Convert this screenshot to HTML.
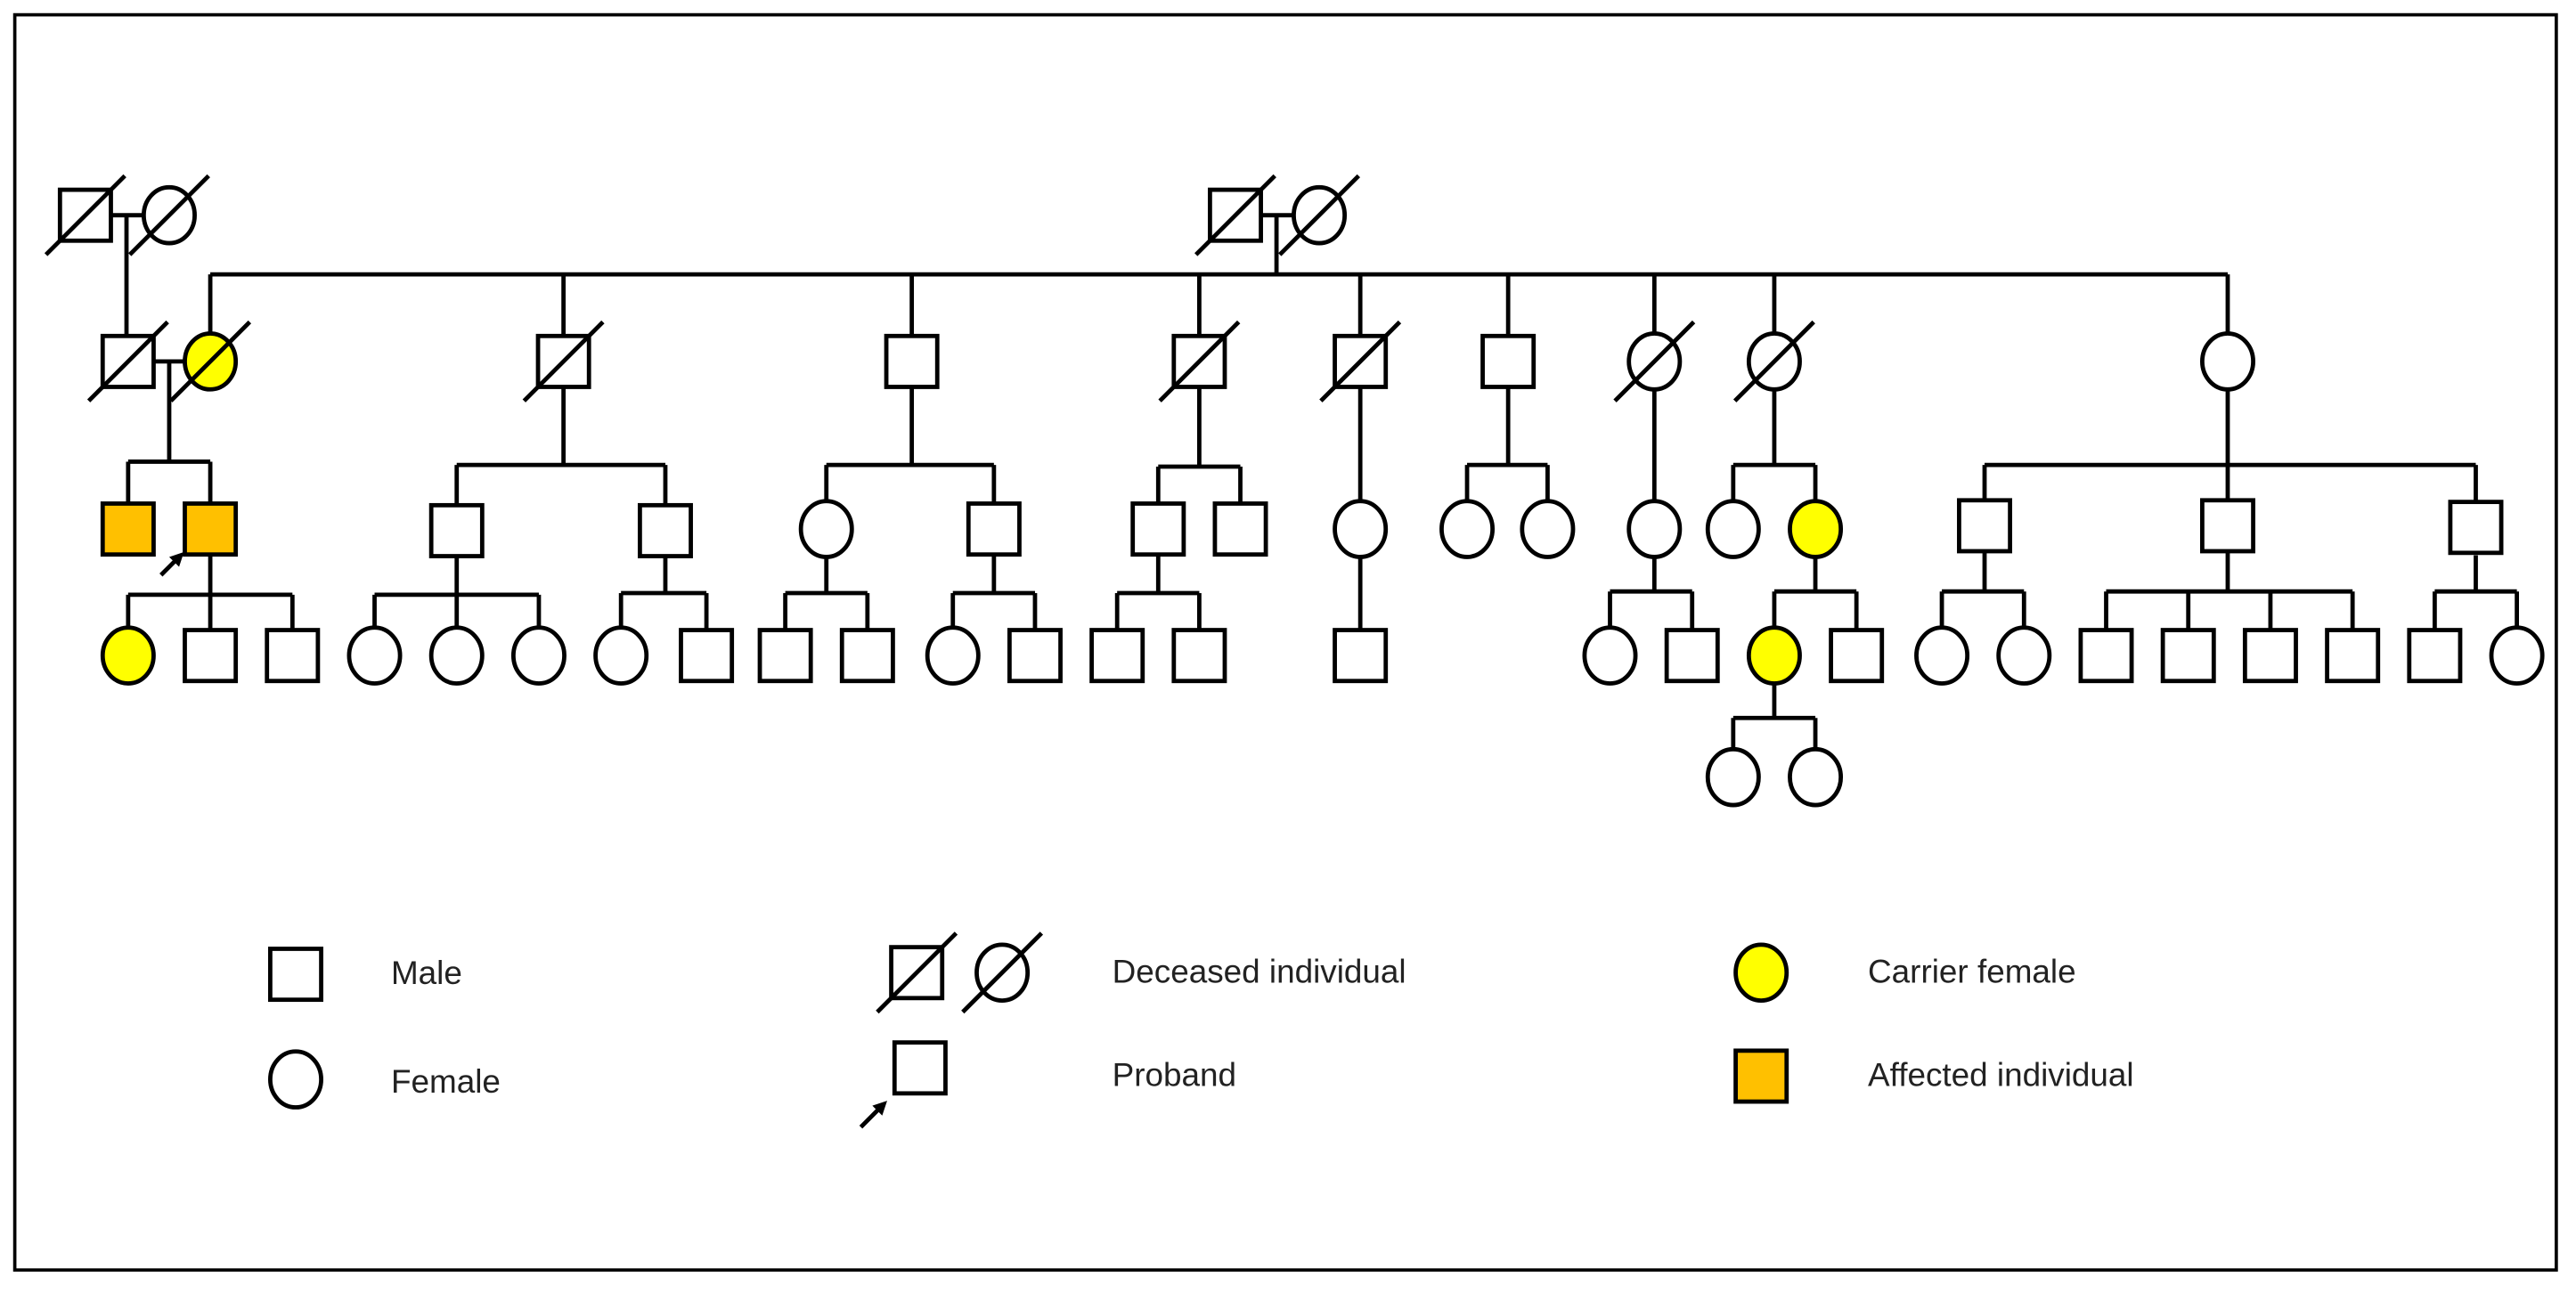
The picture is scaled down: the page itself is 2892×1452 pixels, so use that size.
<!DOCTYPE html>
<html><head><meta charset="utf-8"><style>
html,body{margin:0;padding:0;background:#fff;}
svg{display:block;}
text{font-family:"Liberation Sans",sans-serif;font-size:20px;fill:#222;}
</style></head><body>
<svg width="2892" height="1452" viewBox="0 0 1568 787" preserveAspectRatio="none" xmlns="http://www.w3.org/2000/svg">
<rect x="0" y="0" width="1568" height="787" fill="#fff"/>
<rect x="9" y="9" width="1547" height="764" fill="none" stroke="#000" stroke-width="2"/>
<defs>
<g id="sq"><rect x="-15.5" y="-15.5" width="31" height="31" fill="#fff" stroke="#000" stroke-width="2.6"/></g>
<g id="ci"><ellipse cx="0" cy="0" rx="15.5" ry="17" fill="#fff" stroke="#000" stroke-width="2.6"/></g>
<g id="sl"><line x1="-24" y1="24" x2="24" y2="-24" stroke="#000" stroke-width="2.6"/></g>
</defs>
<g stroke="#000" stroke-width="2.6" fill="none">
<!-- Gen I left -->
<line x1="67" y1="131" x2="88" y2="131"/><line x1="77" y1="131" x2="77" y2="204"/>
<!-- Gen I center -->
<line x1="767" y1="131" x2="788" y2="131"/><line x1="777" y1="131" x2="777" y2="167"/>
<line x1="128" y1="167" x2="1356" y2="167"/>
<line x1="128" y1="167" x2="128" y2="204"/>
<line x1="343" y1="167" x2="343" y2="204"/>
<line x1="555" y1="167" x2="555" y2="204"/>
<line x1="730" y1="167" x2="730" y2="204"/>
<line x1="828" y1="167" x2="828" y2="204"/>
<line x1="918" y1="167" x2="918" y2="204"/>
<line x1="1007" y1="167" x2="1007" y2="204"/>
<line x1="1080" y1="167" x2="1080" y2="204"/>
<line x1="1356" y1="167" x2="1356" y2="204"/>
<!-- Gen II -> III -->
<line x1="94" y1="220" x2="113" y2="220"/><line x1="103" y1="220" x2="103" y2="281"/>
<line x1="78" y1="281" x2="128" y2="281"/><line x1="78" y1="281" x2="78" y2="307"/><line x1="128" y1="281" x2="128" y2="307"/>
<line x1="343" y1="236" x2="343" y2="283"/><line x1="278" y1="283" x2="405" y2="283"/><line x1="278" y1="283" x2="278" y2="307"/><line x1="405" y1="283" x2="405" y2="307"/>
<line x1="555" y1="236" x2="555" y2="283"/><line x1="503" y1="283" x2="605" y2="283"/><line x1="503" y1="283" x2="503" y2="307"/><line x1="605" y1="283" x2="605" y2="307"/>
<line x1="730" y1="236" x2="730" y2="284"/><line x1="705" y1="284" x2="755" y2="284"/><line x1="705" y1="284" x2="705" y2="307"/><line x1="755" y1="284" x2="755" y2="307"/>
<line x1="828" y1="236" x2="828" y2="384"/>
<line x1="918" y1="236" x2="918" y2="283"/><line x1="893" y1="283" x2="942" y2="283"/><line x1="893" y1="283" x2="893" y2="307"/><line x1="942" y1="283" x2="942" y2="307"/>
<line x1="1007" y1="236" x2="1007" y2="307"/>
<line x1="1080" y1="236" x2="1080" y2="283"/><line x1="1055" y1="283" x2="1105" y2="283"/><line x1="1055" y1="283" x2="1055" y2="307"/><line x1="1105" y1="283" x2="1105" y2="307"/>
<line x1="1356" y1="236" x2="1356" y2="283"/><line x1="1208" y1="283" x2="1507" y2="283"/><line x1="1208" y1="283" x2="1208" y2="307"/><line x1="1356" y1="283" x2="1356" y2="307"/><line x1="1507" y1="283" x2="1507" y2="307"/>
<!-- Gen III -> IV -->
<line x1="128" y1="338" x2="128" y2="362"/><line x1="78" y1="362" x2="178" y2="362"/><line x1="78" y1="362" x2="78" y2="384"/><line x1="128" y1="362" x2="128" y2="384"/><line x1="178" y1="362" x2="178" y2="384"/>
<line x1="278" y1="338" x2="278" y2="362"/><line x1="228" y1="362" x2="328" y2="362"/><line x1="228" y1="362" x2="228" y2="384"/><line x1="278" y1="362" x2="278" y2="384"/><line x1="328" y1="362" x2="328" y2="384"/>
<line x1="405" y1="338" x2="405" y2="361"/><line x1="378" y1="361" x2="430" y2="361"/><line x1="378" y1="361" x2="378" y2="384"/><line x1="430" y1="361" x2="430" y2="384"/>
<line x1="503" y1="338" x2="503" y2="361"/><line x1="478" y1="361" x2="528" y2="361"/><line x1="478" y1="361" x2="478" y2="384"/><line x1="528" y1="361" x2="528" y2="384"/>
<line x1="605" y1="338" x2="605" y2="361"/><line x1="580" y1="361" x2="630" y2="361"/><line x1="580" y1="361" x2="580" y2="384"/><line x1="630" y1="361" x2="630" y2="384"/>
<line x1="705" y1="338" x2="705" y2="361"/><line x1="680" y1="361" x2="730" y2="361"/><line x1="680" y1="361" x2="680" y2="384"/><line x1="730" y1="361" x2="730" y2="384"/>
<line x1="1007" y1="338" x2="1007" y2="360"/><line x1="980" y1="360" x2="1030" y2="360"/><line x1="980" y1="360" x2="980" y2="384"/><line x1="1030" y1="360" x2="1030" y2="384"/>
<line x1="1105" y1="338" x2="1105" y2="360"/><line x1="1080" y1="360" x2="1130" y2="360"/><line x1="1080" y1="360" x2="1080" y2="384"/><line x1="1130" y1="360" x2="1130" y2="384"/>
<line x1="1208" y1="336" x2="1208" y2="360"/><line x1="1182" y1="360" x2="1232" y2="360"/><line x1="1182" y1="360" x2="1182" y2="384"/><line x1="1232" y1="360" x2="1232" y2="384"/>
<line x1="1356" y1="336" x2="1356" y2="360"/><line x1="1282" y1="360" x2="1432" y2="360"/><line x1="1282" y1="360" x2="1282" y2="384"/><line x1="1332" y1="360" x2="1332" y2="384"/><line x1="1382" y1="360" x2="1382" y2="384"/><line x1="1432" y1="360" x2="1432" y2="384"/>
<line x1="1507" y1="338" x2="1507" y2="360"/><line x1="1482" y1="360" x2="1532" y2="360"/><line x1="1482" y1="360" x2="1482" y2="384"/><line x1="1532" y1="360" x2="1532" y2="384"/>
<!-- Gen IV -> V -->
<line x1="1080" y1="414" x2="1080" y2="437"/><line x1="1055" y1="437" x2="1105" y2="437"/><line x1="1055" y1="437" x2="1055" y2="458"/><line x1="1105" y1="437" x2="1105" y2="458"/>
</g>
<!-- Gen I -->
<use href="#sq" x="52" y="131"/><use href="#sl" x="52" y="131"/>
<use href="#ci" x="103" y="131"/><use href="#sl" x="103" y="131"/>
<use href="#sq" x="752" y="131"/><use href="#sl" x="752" y="131"/>
<use href="#ci" x="803" y="131"/><use href="#sl" x="803" y="131"/>
<!-- Gen II -->
<use href="#sq" x="78" y="220"/><use href="#sl" x="78" y="220"/>
<ellipse cx="128" cy="220" rx="15.5" ry="17" fill="#ffff00" stroke="#000" stroke-width="2.6"/><use href="#sl" x="128" y="220"/>
<use href="#sq" x="343" y="220"/><use href="#sl" x="343" y="220"/>
<use href="#sq" x="555" y="220"/>
<use href="#sq" x="730" y="220"/><use href="#sl" x="730" y="220"/>
<use href="#sq" x="828" y="220"/><use href="#sl" x="828" y="220"/>
<use href="#sq" x="918" y="220"/>
<use href="#ci" x="1007" y="220"/><use href="#sl" x="1007" y="220"/>
<use href="#ci" x="1080" y="220"/><use href="#sl" x="1080" y="220"/>
<use href="#ci" x="1356" y="220"/>
<!-- Gen III -->
<rect x="62.5" y="306.5" width="31" height="31" fill="#ffc000" stroke="#000" stroke-width="2.6"/>
<rect x="112.5" y="306.5" width="31" height="31" fill="#ffc000" stroke="#000" stroke-width="2.6"/>
<line x1="98" y1="350" x2="108" y2="340" stroke="#000" stroke-width="2.6"/><polygon points="112,336 103,339 109,345" fill="#000"/>
<use href="#sq" x="278" y="323"/><use href="#sq" x="405" y="323"/>
<use href="#ci" x="503" y="322"/><use href="#sq" x="605" y="322"/>
<use href="#sq" x="705" y="322"/><use href="#sq" x="755" y="322"/>
<use href="#ci" x="828" y="322"/>
<use href="#ci" x="893" y="322"/><use href="#ci" x="942" y="322"/>
<use href="#ci" x="1007" y="322"/>
<use href="#ci" x="1055" y="322"/>
<ellipse cx="1105" cy="322" rx="15.5" ry="17" fill="#ffff00" stroke="#000" stroke-width="2.6"/>
<use href="#sq" x="1208" y="320"/><use href="#sq" x="1356" y="320"/><use href="#sq" x="1507" y="321"/>
<!-- Gen IV -->
<ellipse cx="78" cy="399" rx="15.5" ry="17" fill="#ffff00" stroke="#000" stroke-width="2.6"/>
<use href="#sq" x="128" y="399"/><use href="#sq" x="178" y="399"/>
<use href="#ci" x="228" y="399"/><use href="#ci" x="278" y="399"/><use href="#ci" x="328" y="399"/>
<use href="#ci" x="378" y="399"/><use href="#sq" x="430" y="399"/>
<use href="#sq" x="478" y="399"/><use href="#sq" x="528" y="399"/>
<use href="#ci" x="580" y="399"/><use href="#sq" x="630" y="399"/>
<use href="#sq" x="680" y="399"/><use href="#sq" x="730" y="399"/>
<use href="#sq" x="828" y="399"/>
<use href="#ci" x="980" y="399"/><use href="#sq" x="1030" y="399"/>
<ellipse cx="1080" cy="399" rx="15.5" ry="17" fill="#ffff00" stroke="#000" stroke-width="2.6"/>
<use href="#sq" x="1130" y="399"/>
<use href="#ci" x="1182" y="399"/><use href="#ci" x="1232" y="399"/>
<use href="#sq" x="1282" y="399"/><use href="#sq" x="1332" y="399"/><use href="#sq" x="1382" y="399"/><use href="#sq" x="1432" y="399"/>
<use href="#sq" x="1482" y="399"/><use href="#ci" x="1532" y="399"/>
<!-- Gen V -->
<use href="#ci" x="1055" y="473"/><use href="#ci" x="1105" y="473"/>
<!-- Legend -->
<use href="#sq" x="180" y="593"/><text x="238" y="599">Male</text>
<use href="#ci" x="180" y="657"/><text x="238" y="665">Female</text>
<use href="#sq" x="558" y="592"/><use href="#sl" x="558" y="592"/>
<use href="#ci" x="610" y="592"/><use href="#sl" x="610" y="592"/>
<text x="677" y="598">Deceased individual</text>
<use href="#sq" x="560" y="650"/>
<line x1="524" y1="686" x2="535" y2="675" stroke="#000" stroke-width="2.6"/><polygon points="540,670 531,673 537,679" fill="#000"/>
<text x="677" y="661">Proband</text>
<ellipse cx="1072" cy="592" rx="15.5" ry="17" fill="#ffff00" stroke="#000" stroke-width="2.6"/>
<text x="1137" y="598">Carrier female</text>
<rect x="1056.5" y="639.5" width="31" height="31" fill="#ffc000" stroke="#000" stroke-width="2.6"/>
<text x="1137" y="661">Affected individual</text>
</svg>
</body></html>
